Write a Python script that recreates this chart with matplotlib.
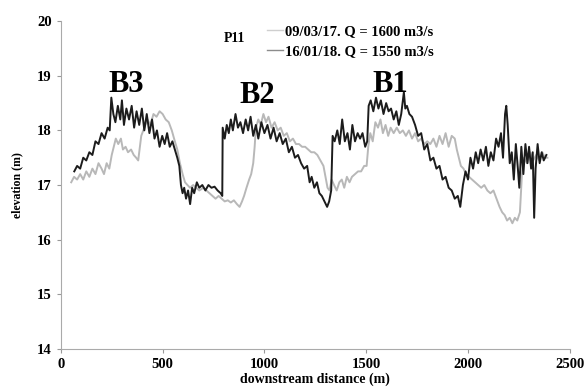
import matplotlib.pyplot as plt

plt.rcParams['font.family'] = ['Liberation Serif', 'DejaVu Serif']
plt.rcParams['font.weight'] = 'bold'

# 16/01/18, Q = 1550 m3/s (dark line)
dist_2018 = [66, 80, 95, 110, 125, 140, 155, 170, 185, 200, 215, 230, 240, 248, 258, 268, 280, 292, 300, 310,
             322, 335, 348, 360, 372, 385, 398, 410, 422, 435, 448, 460, 472, 485, 498, 510, 522, 535, 548, 560,
             572, 582, 590, 598, 606, 615, 625, 635, 645, 655, 668, 680, 695, 710, 725, 740, 755, 770, 785, 793,
             795, 805, 815, 825, 835, 845, 858, 870, 882, 895, 908, 920, 932, 945, 958, 970, 985, 1000, 1015, 1030,
             1045, 1060, 1075, 1090, 1105, 1120, 1135, 1150, 1165, 1180, 1195, 1210, 1222, 1232, 1245, 1258, 1270,
             1282, 1295, 1308, 1318, 1328, 1335, 1345, 1358, 1370, 1382, 1395, 1408, 1420, 1432, 1445, 1458, 1470,
             1482, 1495, 1505, 1512, 1522, 1535, 1548, 1560, 1572, 1585, 1598, 1610, 1622, 1635, 1648, 1660, 1672,
             1685, 1692, 1700, 1712, 1725, 1740, 1755, 1770, 1785, 1800, 1815, 1830, 1845, 1860, 1875, 1890, 1905,
             1920, 1935, 1950, 1962, 1975, 1988, 2000, 2012, 2025, 2038, 2050, 2062, 2075, 2088, 2100, 2112, 2125,
             2138, 2150, 2162, 2172, 2182, 2188, 2195, 2205, 2215, 2225, 2235, 2245, 2252, 2262, 2272, 2282, 2292,
             2300, 2310, 2318, 2325, 2332, 2342, 2352, 2362, 2372, 2385]
elev_2018 = [17.25, 17.35, 17.3, 17.5, 17.45, 17.6, 17.55, 17.8, 17.75, 17.95, 17.85, 18.05, 18.0, 18.6, 18.3, 18.15,
             18.45, 18.2, 18.55, 18.1, 18.4, 18.2, 18.45, 18.05, 18.35, 18.1, 18.4, 18.0, 18.3, 17.95, 18.2, 17.85,
             18.0, 17.7, 17.9, 17.75, 17.95, 17.7, 17.8, 17.65, 17.5, 17.35, 17.0, 16.85, 16.95, 16.75, 16.9, 16.65,
             16.95, 16.85, 17.05, 16.95, 17.0, 16.9, 17.0, 16.95, 16.97, 16.9, 16.85, 16.8, 18.05, 17.85, 18.1, 17.95,
             18.2, 18.0, 18.3, 18.05, 18.15, 17.95, 18.2, 18.0, 18.25, 17.9, 18.1, 17.85, 18.15, 17.95, 18.1, 17.85,
             18.05, 17.8, 17.95, 17.75, 17.85, 17.6, 17.7, 17.5, 17.55, 17.4, 17.3, 17.35, 17.05, 17.15, 16.95, 17.05,
             16.85, 16.8, 16.7, 16.6, 16.7, 16.9, 17.9, 17.8, 18.0, 17.75, 18.2, 17.8, 17.95, 17.65, 18.1, 17.8,
             17.95, 17.85, 17.95, 17.7, 17.8, 18.45, 18.55, 18.35, 18.6, 18.4, 18.55, 18.3, 18.5, 18.35, 18.4, 18.2,
             18.35, 18.1, 18.3, 18.7, 18.4, 18.45, 18.3, 18.25, 18.1, 17.9, 17.95, 17.65, 17.75, 17.45, 17.5, 17.3,
             17.35, 17.1, 17.15, 16.95, 16.9, 16.75, 16.8, 16.6, 17.0, 17.25, 17.1, 17.5, 17.3, 17.6, 17.4, 17.65,
             17.45, 17.7, 17.35, 17.6, 17.45, 17.85, 17.7, 17.95, 17.5, 18.3, 18.45, 18.1, 17.4, 17.6, 17.1, 17.75,
             17.3, 16.95, 17.7, 17.2, 17.75, 17.4, 17.7, 17.3, 17.6, 16.4, 17.3, 17.75, 17.4, 17.6, 17.45, 17.55]

# 09/03/17, Q = 1600 m3/s (light line)
dist_2017 = [51, 65, 80, 95, 110, 125, 140, 155, 170, 185, 200, 212, 225, 238, 250, 260, 270, 282, 295, 305, 318,
             330, 345, 358, 370, 380, 395, 410, 425, 440, 455, 470, 485, 500, 515, 530, 545, 560, 572, 585, 598,
             610, 622, 635, 650, 665, 680, 700, 715, 730, 745, 760, 775, 790, 805, 820, 835, 850, 865, 878, 890,
             900, 912, 925, 935, 945, 952, 958, 970, 982, 995, 1008, 1020, 1035, 1050, 1065, 1080, 1095, 1110, 1125,
             1140, 1155, 1170, 1185, 1200, 1215, 1230, 1245, 1260, 1275, 1290, 1300, 1310, 1320, 1330, 1342, 1355,
             1368, 1380, 1392, 1405, 1418, 1430, 1445, 1460, 1475, 1490, 1502, 1510, 1520, 1532, 1545, 1558, 1570,
             1582, 1595, 1608, 1620, 1635, 1650, 1665, 1680, 1695, 1710, 1725, 1740, 1755, 1770, 1785, 1800, 1815,
             1830, 1845, 1860, 1875, 1890, 1905, 1920, 1935, 1945, 1955, 1965, 1978, 1990, 2005, 2020, 2035, 2050,
             2065, 2080, 2095, 2110, 2125, 2140, 2155, 2168, 2180, 2192, 2205, 2218, 2230, 2242, 2255, 2265, 2275,
             2290, 2305, 2320, 2335, 2350, 2365, 2378, 2390]
elev_2017 = [17.05, 17.15, 17.1, 17.2, 17.1, 17.25, 17.15, 17.3, 17.2, 17.4, 17.3, 17.2, 17.4, 17.3, 17.55, 17.7,
             17.85, 17.75, 17.85, 17.65, 17.7, 17.6, 17.65, 17.55, 17.5, 17.45, 17.9, 18.05, 18.2, 18.1, 18.3, 18.25,
             18.35, 18.3, 18.2, 18.15, 18.0, 17.8, 17.65, 17.4, 17.2, 17.05, 17.0, 16.95, 17.0, 16.95, 16.9, 16.95,
             16.9, 16.85, 16.8, 16.75, 16.8, 16.75, 16.7, 16.72, 16.68, 16.72, 16.65, 16.6, 16.7, 16.8, 16.95, 17.1,
             17.2, 17.4, 17.7, 18.05, 18.2, 18.1, 18.3, 18.15, 18.25, 18.05, 18.15, 18.0, 18.05, 17.9, 17.95, 17.8,
             17.85, 17.75, 17.75, 17.7, 17.7, 17.65, 17.6, 17.6, 17.55, 17.45, 17.35, 17.15, 16.95, 16.9, 17.1, 17.0,
             16.9, 17.05, 17.1, 16.95, 17.15, 17.05, 17.15, 17.2, 17.25, 17.25, 17.35, 17.35, 17.7, 17.95, 17.8, 18.15,
             18.05, 18.2, 17.95, 18.1, 17.9, 18.05, 17.95, 18.05, 17.95, 18.0, 17.9, 18.0, 17.85, 17.95, 17.8, 17.85,
             17.75, 17.8, 17.75, 17.85, 17.7, 17.9, 17.75, 17.95, 17.7, 17.9, 17.85, 17.65, 17.5, 17.35, 17.3, 17.2,
             17.15, 17.1, 17.05, 17.0, 16.95, 17.0, 16.9, 16.85, 16.9, 16.75, 16.6, 16.5, 16.45, 16.35, 16.4, 16.3,
             16.4, 16.35, 16.5, 17.2, 17.5, 17.4, 17.6, 17.45, 17.55, 17.45, 17.6, 17.5, 17.5]

bar_names = ['B3', 'B2', 'B1']
bar_x = [322, 965, 1616]
bar_y = [18.7, 18.5, 18.7]

fig, ax = plt.subplots(figsize=(5.85, 3.92), dpi=100)
fig.subplots_adjust(left=0.104, right=0.974, top=0.946, bottom=0.11)

ax.plot(dist_2017, elev_2017, color='#b8b8b8', lw=1.4, label='09/03/17. Q = 1600 m3/s')
ax.plot(dist_2018, elev_2018, color='#1c1c1c', lw=1.4, label='16/01/18. Q = 1550 m3/s')

for name, x, y in zip(bar_names, bar_x, bar_y):
    ax.text(x, y, name, fontsize=22, fontweight='bold', ha='center', va='baseline')

ax.text(855, 19.69, 'P11', fontsize=10, fontweight='bold', ha='center', va='center')
leg = ax.legend(loc='upper left', bbox_to_anchor=(0.391, 1.01), frameon=False, borderpad=0,
                handlelength=1.1, handletextpad=0.15, labelspacing=0.45,
                prop={'weight': 'bold', 'size': 10.5})
leg_colors = ['#cfcfcf', '#8c8c8c']
for h, c in zip(leg.get_lines(), leg_colors):
    h.set_linewidth(1.0)
    h.set_color(c)

ax.set_xlim(0, 2500)
ax.set_ylim(14, 20)
ax.set_xticks([0, 500, 1000, 1500, 2000, 2500])
ax.set_yticks([14, 15, 16, 17, 18, 19, 20])
ax.tick_params(labelsize=10.5, length=3, color='#999999', direction='out')
for lab in ax.get_xticklabels() + ax.get_yticklabels():
    lab.set_fontweight('bold')
ax.set_xlabel('downstream distance (m)', fontsize=10, fontweight='bold', labelpad=1)
ax.set_ylabel('elevation (m)', fontsize=8.5, fontweight='bold', labelpad=10)
for side in ['top', 'right']:
    ax.spines[side].set_visible(False)
for side in ['left', 'bottom']:
    ax.spines[side].set_color('#aaaaaa')

fig.savefig('out.png')
